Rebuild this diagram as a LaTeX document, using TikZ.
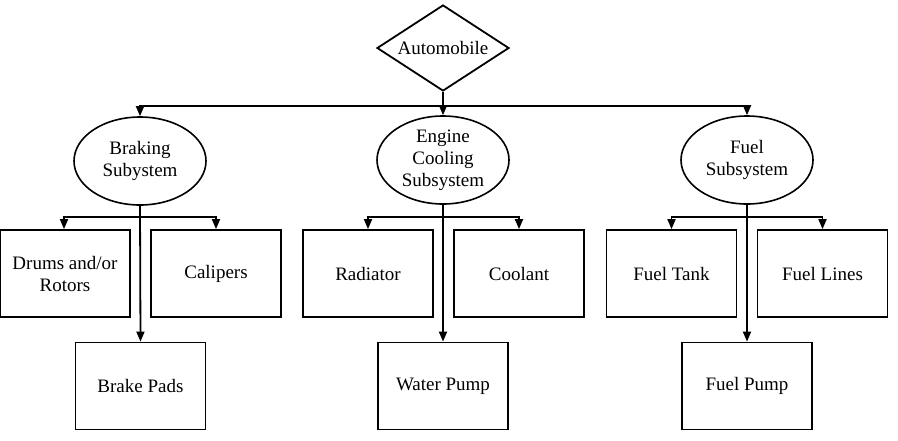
\documentclass[tikz,border=0pt]{standalone}
\usepackage{fontspec}
\setmainfont{Liberation Serif}
\usetikzlibrary{shapes.geometric,arrows.meta}

\tikzset{
  sys/.style={ellipse, draw, line width=0.8pt, minimum width=66pt, minimum height=44pt, inner sep=0pt, align=center},
  part/.style={rectangle, draw, line width=0.9pt, minimum width=65pt, minimum height=43.5pt, inner sep=0pt, align=center},
  top/.style={diamond, draw, line width=0.9pt, aspect=1.53, minimum width=66pt, minimum height=43pt, inner sep=0pt},
  link/.style={line width=0.9pt, -{Triangle[length=5pt,width=4pt]}}
}

\begin{document}
\begin{tikzpicture}[x=0.5pt, y=-0.5pt, font=\fontsize{9.5}{11}\selectfont]
                \useasboundingbox (0,0) rectangle (898,440);
                \node [top] (auto) at (443,48) {Automobile};
                \node [sys] (brake) at (140,161) {Braking\\Subystem};
                \node [sys] (engine) at (443,160) {Engine\\Cooling\\Subsystem};
                \node [sys] (fuel) at (747,160) {Fuel\\Subsystem};
                \node [part] (drums) at (65,273.5) {Drums and/or\\Rotors};
                \node [part] (calipers) at (216,273.5) {Calipers};
                \node [part] (pads) at (140.5,386) {Brake Pads};
                \node [part] (radiator) at (368,273.5) {Radiator};
                \node [part] (coolant) at (519,273.5) {Coolant};
                \node [part] (wpump) at (443,386) {Water Pump};
                \node [part] (tank) at (671.5,273.5) {Fuel Tank};
                \node [part] (lines) at (822.5,273.5) {Fuel Lines};
                \node [part] (fpump) at (747,386) {Fuel Pump};
                \coordinate (t0) at (443,106);
                \coordinate (t1) at (140,217);
                \coordinate (t2) at (443,217);
                \coordinate (t3) at (747,217);
                % top level
                \draw [line width=0.9pt] (auto.south) -- (t0);
                \draw [link] (t0) -| (brake.north);
                \draw [link] (t0) -- (engine.north);
                \draw [link] (t0) -| (fuel.north);
                % subsystems
                \draw [link] (brake.south) -- (pads.north);
                \draw [link] (t1) -| ([xshift=-0.5pt]drums.north);
                \draw [link] (t1) -| (calipers.north);
                \draw [link] (engine.south) -- (wpump.north);
                \draw [link] (t2) -| (radiator.north);
                \draw [link] (t2) -| (coolant.north);
                \draw [link] (fuel.south) -- (fpump.north);
                \draw [link] (t3) -| (tank.north);
                \draw [link] (t3) -| (lines.north);
            \end{tikzpicture}
\end{document}
